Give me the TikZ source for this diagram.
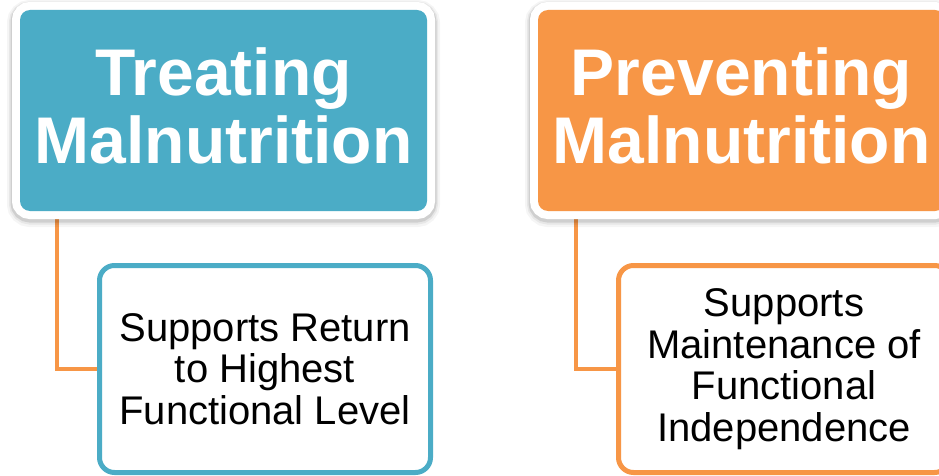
\documentclass[tikz,border=0pt]{standalone}
\usepackage{fontspec}
\setmainfont{Liberation Sans}
\usetikzlibrary{calc,backgrounds}
\definecolor{aqua}{HTML}{4BACC6}
\definecolor{tangerine}{HTML}{F79646}
\tikzset{
  headbox/.style={rounded corners=10pt, minimum width=407pt, minimum height=201pt,
    inner sep=0pt, align=center, text=white, text depth=10pt,
    font=\fontsize{66}{68}\selectfont\bfseries,
    % soft shadow around the white frame, heavier towards the bottom
    preaction={draw=black, opacity=0.04, line width=26pt, transform canvas={yshift=-3pt}},
    preaction={draw=black, opacity=0.06, line width=22pt, transform canvas={yshift=-2.5pt}},
    preaction={draw=black, opacity=0.10, line width=19pt, transform canvas={yshift=-2pt}},
    preaction={draw=white, line width=16pt}},
  subbox/.style={draw, line width=5pt, fill=white, rounded corners=15pt,
    minimum width=331pt, minimum height=207pt, inner sep=0pt, align=center,
    font=\fontsize{40}{41.5}\selectfont},
  link/.style={draw=tangerine, line width=4pt}
}
\begin{document}
\begin{tikzpicture}[x=1pt, y=-1pt]
  \useasboundingbox (0,0) rectangle (939,476);
  % top-level boxes
  \node[headbox, fill=aqua] (tA) at (223.5,110.5) {Treating\\Malnutrition};
  \node[headbox, fill=tangerine] (tB) at (741.5,110.5) {Preventing\\Malnutrition};
  % second-level boxes
  \node[subbox, draw=aqua] (cA) at (265,369) {Supports Return\\to Highest\\Functional Level};
  \node[subbox, draw=tangerine] (cB) at (784,369) {Supports\\Maintenance of\\Functional\\Independence};
  % elbow connectors behind the boxes
  \begin{scope}[on background layer]
    \draw[link] ($(tA.south west)+(37pt,0pt)$) |- (cA.west);
    \draw[link] ($(tB.south west)+(38pt,0pt)$) |- (cB.west);
  \end{scope}
\end{tikzpicture}
\end{document}
